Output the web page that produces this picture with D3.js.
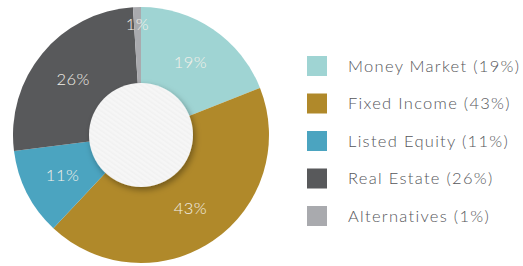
<!DOCTYPE html>
<html>
<head>
<meta charset="utf-8">
<script src="https://cdn.jsdelivr.net/npm/d3@7"></script>
<style>
  html, body { margin: 0; padding: 0; background: #fff; }
  svg { display: block; }
</style>
</head>
<body>
<svg id="chart"></svg>
<script>
// 数据
const categories = ['Money Market', 'Fixed Income', 'Listed Equity', 'Real Estate', 'Alternatives'];
const shares = [19, 43, 11, 26, 1];
const colors = ['#9fd4d3', '#b0892a', '#4ba4c0', '#58595b', '#a9aaae'];

const width = 523;
const height = 266;
const cx = 141;
const cy = 135;
const outerR = 128;
const innerR = 52;

const svg = d3.select('#chart')
  .attr('width', width)
  .attr('height', height);

const defs = svg.append('defs');

// 中心圆阴影
const shadow = defs.append('filter')
  .attr('id', 'hole-shadow')
  .attr('x', '-30%').attr('y', '-30%')
  .attr('width', '160%').attr('height', '160%');
shadow.append('feDropShadow')
  .attr('dx', 2).attr('dy', 3)
  .attr('stdDeviation', 3)
  .attr('flood-color', '#000')
  .attr('flood-opacity', 0.35);

// 中心圆细斜纹
const stripes = defs.append('pattern')
  .attr('id', 'hole-stripes')
  .attr('patternUnits', 'userSpaceOnUse')
  .attr('width', 4).attr('height', 4)
  .attr('patternTransform', 'rotate(-55)');
stripes.append('rect').attr('width', 4).attr('height', 4).attr('fill', '#f6f6f6');
stripes.append('rect').attr('width', 1.5).attr('height', 4).attr('fill', '#f1f1f1');

const g = svg.append('g').attr('transform', `translate(${cx},${cy})`);

const pie = d3.pie().sort(null).value(d => d)(shares);

const arc = d3.arc().innerRadius(0).outerRadius(outerR);

g.selectAll('path.slice')
  .data(pie)
  .enter()
  .append('path')
  .attr('class', 'slice')
  .attr('d', arc)
  .attr('fill', (d, i) => colors[i]);

// 中心白圆
g.append('circle')
  .attr('r', innerR)
  .attr('fill', 'url(#hole-stripes)')
  .attr('filter', 'url(#hole-shadow)');

// 百分比标签（小扇区放在外侧）
const labelArc = d3.arc().innerRadius(88).outerRadius(88);
const edgeArc = d3.arc().innerRadius(111).outerRadius(111);

g.selectAll('text.pct')
  .data(pie)
  .enter()
  .append('text')
  .attr('class', 'pct')
  .attr('transform', d => {
    const c = (d.data < 5 ? edgeArc : labelArc).centroid(d);
    return `translate(${c[0]},${c[1]})`;
  })
  .attr('text-anchor', 'middle')
  .attr('dy', '0.35em')
  .attr('font-family', 'Lato, "Noto Sans", sans-serif')
  .attr('font-weight', 300)
  .attr('font-size', 16.5)
  .attr('letter-spacing', 0.5)
  .attr('fill', '#f4f1ea')
  .text(d => `${d.data}%`);

// 图例
const legend = svg.append('g').attr('transform', 'translate(307,56)');
const rowH = 37.5;

const item = legend.selectAll('g.item')
  .data(categories)
  .enter()
  .append('g')
  .attr('class', 'item')
  .attr('transform', (d, i) => `translate(0,${i * rowH})`);

item.append('rect')
  .attr('width', 20)
  .attr('height', 20)
  .attr('fill', (d, i) => colors[i]);

item.append('text')
  .attr('x', 41)
  .attr('y', 10)
  .attr('dy', '0.35em')
  .attr('font-family', 'Lato, "Noto Sans", sans-serif')
  .attr('font-weight', 300)
  .attr('font-size', 16.5)
  .attr('letter-spacing', 1.3)
  .attr('fill', '#55565a')
  .text((d, i) => `${d} (${shares[i]}%)`);
</script>
</body>
</html>
